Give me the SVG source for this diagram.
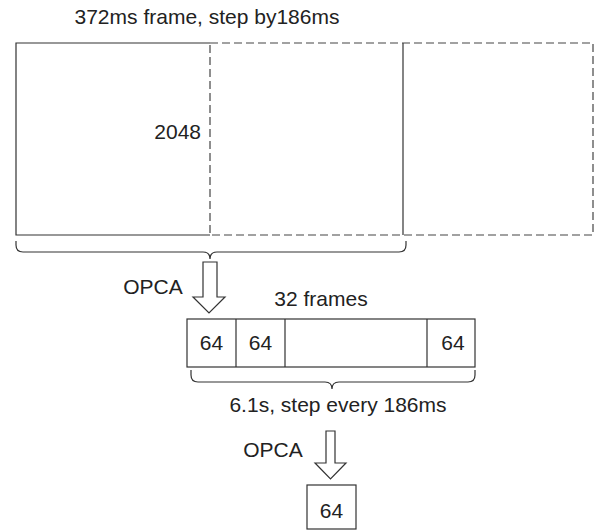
<svg xmlns="http://www.w3.org/2000/svg" width="597" height="531" viewBox="0 0 597 531">
<style>
.t{font-family:"Liberation Sans",Arial,sans-serif;font-size:21px;fill:#222}
.s{fill:none;stroke:#333;stroke-width:1.2}
.d{fill:none;stroke:#444;stroke-width:1.2;stroke-dasharray:8,4}
.b{fill:#fff;stroke:#333;stroke-width:1.2}
</style>
<rect width="597" height="531" fill="#fff"/>
<text class="t" x="207" y="24" text-anchor="middle">372ms frame, step by186ms</text>
<g id="frame1">
<path class="s" d="M210,43 H16 V235 H210"/>
<path class="s" d="M403,43 V235"/>
<text class="t" x="201" y="139" text-anchor="end">2048</text>
</g>
<g id="frame2">
<rect class="d" x="210" y="43" width="383" height="192"/>
</g>
<g id="frames32">
<rect class="b" x="187" y="319" width="288" height="48"/>
<path class="s" d="M236,319 V367 M285,319 V367 M427,319 V367"/>
<text class="t" x="211.5" y="350" text-anchor="middle">64</text>
<text class="t" x="260.5" y="350" text-anchor="middle">64</text>
<text class="t" x="453" y="350" text-anchor="middle">64</text>
<text class="t" x="321" y="306" text-anchor="middle">32 frames</text>
</g>
<g id="result">
<rect class="b" x="307" y="485" width="49" height="44"/>
<text class="t" x="331.5" y="518" text-anchor="middle">64</text>
</g>
<g id="connectors">
<path class="s" d="M16,241 V245 Q16,252 23,252 H203 Q210,252 210,259 Q210,252 217,252 H399 Q406,252 406,245 V241"/>
<path class="b" d="M203,262 V297 H193 L209,313 L225,297 H217 V262 Z"/>
<text class="t" x="153" y="294" text-anchor="middle">OPCA</text>
<path class="s" d="M191,370 V375 Q191,382 198,382 H325 Q332,382 332,389 Q332,382 339,382 H468 Q475,382 475,375 V370"/>
<text class="t" x="338" y="412" text-anchor="middle">6.1s, step every 186ms</text>
<path class="b" d="M326,431 V463 H315 L330.5,479 L346,463 H335 V431 Z"/>
<text class="t" x="273" y="457" text-anchor="middle">OPCA</text>
</g>
</svg>
